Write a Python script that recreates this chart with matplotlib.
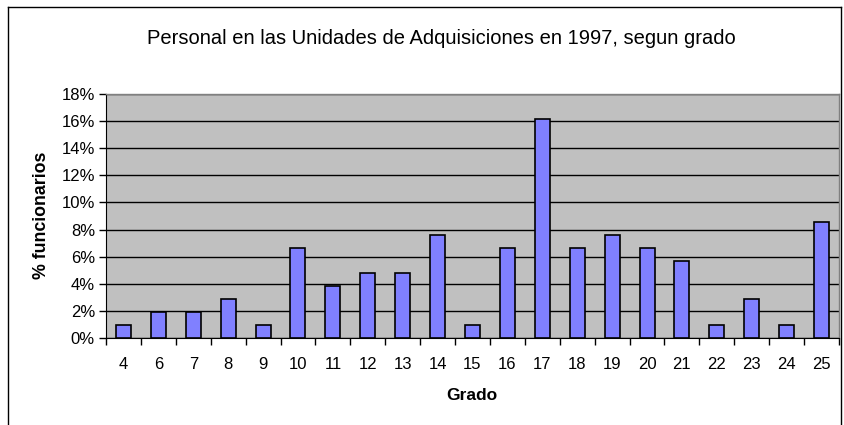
import matplotlib
matplotlib.use("Agg")
import matplotlib.pyplot as plt
from matplotlib.ticker import MultipleLocator, FuncFormatter, FixedLocator
import numpy as np

grados = ["4", "6", "7", "8", "9", "10", "11", "12", "13", "14", "15",
          "16", "17", "18", "19", "20", "21", "22", "23", "24", "25"]
porcentaje = [0.95, 1.90, 1.90, 2.86, 0.95, 6.67, 3.81, 4.76, 4.76, 7.62, 0.95,
              6.67, 16.19, 6.67, 7.62, 6.67, 5.71, 0.95, 2.86, 0.95, 8.57]

titulo = "Personal en las Unidades de Adquisiciones en 1997, segun grado"
xlabel = "Grado"
ylabel = "% funcionarios"

plt.rcParams['font.family'] = ['Liberation Sans', 'DejaVu Sans']

W, H = 844, 425
fig = plt.figure(figsize=(W / 100, H / 100), dpi=100)
fig.patch.set_facecolor("white")

# outer frame (left, top, right)
fig.add_artist(plt.Line2D([8 / W, 8 / W], [0, 1 - 7 / H], color="black", lw=1.0))
fig.add_artist(plt.Line2D([8 / W, 841 / W], [1 - 7 / H, 1 - 7 / H], color="black", lw=1.0))
fig.add_artist(plt.Line2D([841 / W, 841 / W], [0, 1 - 7 / H], color="black", lw=1.0))

left, right, top, bottom = 106, 839, 94, 338
ax = fig.add_axes([left / W, 1 - bottom / H, (right - left) / W, (bottom - top) / H])
ax.set_facecolor("#C0C0C0")

x = np.arange(len(grados))
ax.bar(x, porcentaje, width=0.43, color="#8080FF", edgecolor="black", linewidth=1.2, zorder=3)

ax.set_xlim(-0.5, len(grados) - 0.5)
ax.set_ylim(0, 18)
ax.yaxis.set_major_locator(MultipleLocator(2))
ax.yaxis.set_major_formatter(FuncFormatter(lambda v, p: f"{int(round(v))}%"))
ax.grid(axis="y", color="black", lw=1.0, zorder=1)
ax.set_axisbelow(True)

ax.set_xticks(x)
ax.set_xticklabels(grados)
ax.xaxis.set_minor_locator(FixedLocator(np.arange(-0.5, len(grados), 1.0)))
ax.tick_params(axis="x", which="major", length=0, pad=14, labelsize=12)
ax.tick_params(axis="x", which="minor", length=5, width=1, direction="out")
ax.tick_params(axis="y", length=5, width=1, direction="out", labelsize=12, pad=3)

for s in ["top", "right"]:
    ax.spines[s].set_color("#808080")
    ax.spines[s].set_linewidth(1.0)
ax.spines["left"].set_color("black")
ax.spines["bottom"].set_color("black")

fig.text(441 / W, 1 - 39 / H, titulo, ha="center", va="center", fontsize=14.5)
fig.text(472 / W, 1 - 395 / H, xlabel, ha="center", va="center", fontsize=12.5, fontweight="bold")
fig.text(42 / W, 1 - 215 / H, ylabel, ha="center", va="center", fontsize=12.8,
         fontweight="bold", rotation=90)

fig.savefig("out.png", dpi=100)
